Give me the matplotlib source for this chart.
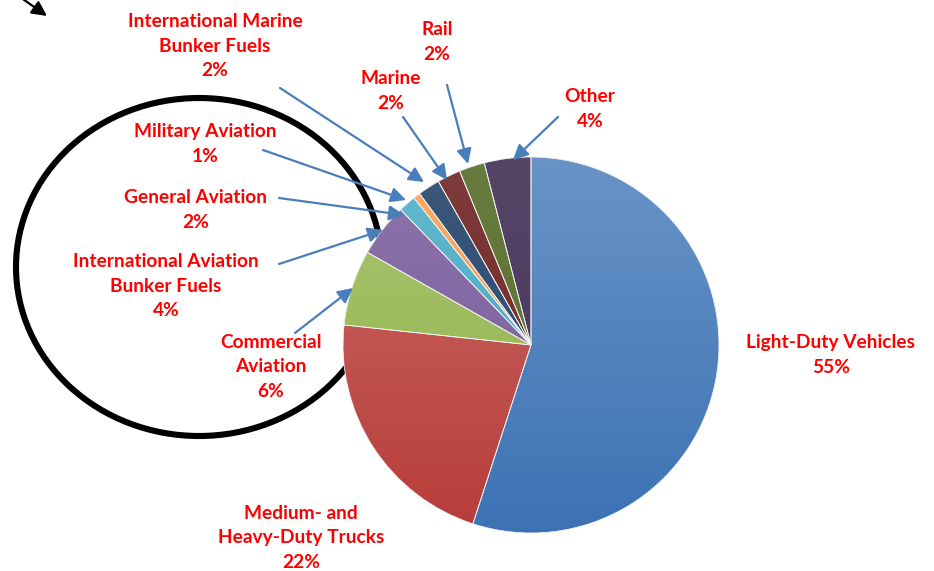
import numpy as np
import matplotlib
matplotlib.use("Agg")
import matplotlib.pyplot as plt
import matplotlib.colors as mcolors
from matplotlib.patches import Ellipse

# transport energy use shares, clockwise from the top
categories = ["Light-Duty Vehicles", "Medium- and\nHeavy-Duty Trucks", "Commercial\nAviation",
              "International Aviation\nBunker Fuels", "General Aviation", "Military Aviation",
              "International Marine\nBunker Fuels", "Marine", "Rail", "Other"]
shares = [55.0, 21.7, 6.5, 4.6, 1.5, 0.6, 1.9, 2.0, 2.2, 4.0]
pct_labels = ["55%", "22%", "6%", "4%", "2%", "1%", "2%", "2%", "2%", "4%"]
colors = ["#4F81BD", "#C0504D", "#9BBB59", "#8064A2", "#4BACC6", "#F79646",
          "#2C4D75", "#772C2A", "#5F7530", "#4D3B62"]

W, H = 934, 571
LINE = 26  # px between label lines


def py(y):
    # pixel row -> data y
    return H - y


def shade(c, s_mul, v_mul):
    hsv = mcolors.rgb_to_hsv(mcolors.to_rgb(c))
    hsv[1] = min(hsv[1] * s_mul, 1)
    hsv[2] = min(hsv[2] * v_mul, 1)
    return mcolors.hsv_to_rgb(hsv)


fig = plt.figure(figsize=(W / 100, H / 100), dpi=100)
ax = fig.add_axes([0, 0, 1, 1])

cx, cy, r = 531, py(345), 188

# big black circle behind the pie
ax.add_patch(Ellipse((199, py(267)), 366, 338, fill=False, lw=4.4, ec="black", zorder=1))

wedges, _ = ax.pie(shares, colors=colors, startangle=90, counterclock=False,
                   center=(cx, cy), radius=r,
                   wedgeprops=dict(linewidth=0.6, edgecolor="#f2f2f2"))

# Excel-ish vertical gradient on each slice
t = np.linspace(0, 1, 256)[:, None, None]
for w, c in zip(wedges, colors):
    top = shade(c, 0.81, 1.05)
    bot = shade(c, 1.15, 0.955)
    grad = top * (1 - t) + bot * t
    im = ax.imshow(grad, extent=(cx - r, cx + r, cy - r, cy + r), origin="upper",
                   aspect="auto", zorder=2, interpolation="bilinear")
    im.set_clip_path(w)
    w.set_facecolor("none")
    w.set_zorder(3)

# label centre of first line (pixel coords) and arrow start / tip
label_pos = [(831, 342), (301, 512), (271, 341), (166, 260), (196, 197),
             (205, 131), (215, 20), (391, 78), (437, 29), (590, 96)]
arrows = [None, None, ((295, 333), (353, 288)), ((279, 264), (383, 230)),
          ((279, 198), (404, 215)), ((263, 150), (406, 200)),
          ((280, 88), (424, 182)), ((403, 117), (447, 180)),
          ((447, 85), (468, 164)), ((558, 117), (513, 160))]

for name, pct, (lx, ly), arr in zip(categories, pct_labels, label_pos, arrows):
    txt = name + "\n" + pct
    n = txt.count("\n") + 1
    ax.text(lx, py(ly + (n - 1) * LINE / 2), txt, ha="center", va="center",
            color="#FF0000", fontsize=13.8, fontweight="bold", family="Lato",
            linespacing=1.56, zorder=5)
    if arr is not None:
        (x0, y0), (x1, y1) = arr
        ax.annotate("", xy=(x1, py(y1)), xytext=(x0, py(y0)),
                    arrowprops=dict(arrowstyle="-|>,head_length=0.9,head_width=0.45",
                                    color="#4A7EBB", lw=1.6, shrinkA=0, shrinkB=0),
                    zorder=6)

# small black arrow in the top-left corner
ax.annotate("", xy=(47, py(16)), xytext=(20, py(-3)),
            arrowprops=dict(arrowstyle="-|>,head_length=0.9,head_width=0.45",
                            color="black", lw=1.6, shrinkA=0, shrinkB=0), zorder=6)

ax.set_xlim(0, W)
ax.set_ylim(0, H)
ax.set_aspect("auto")
ax.axis("off")

fig.savefig("out.png", dpi=100)
